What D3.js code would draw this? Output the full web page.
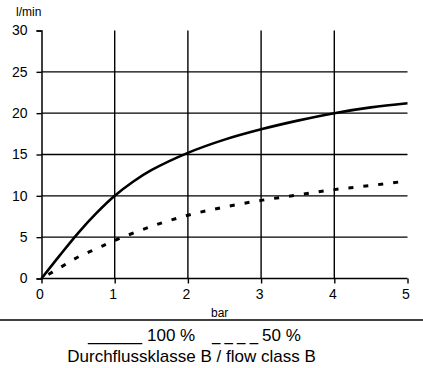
<!DOCTYPE html>
<html>
<head>
<meta charset="utf-8">
<script src="https://cdn.jsdelivr.net/npm/d3@7"></script>
<style>
  html, body { margin: 0; padding: 0; background: #fff; }
  svg { display: block; }
  text { font-family: "Liberation Sans", Arial, sans-serif; fill: #000; }
</style>
</head>
<body>
<div id="chart"></div>
<script>
// ---- data ----
const fullX = [0, 0.25, 0.5, 0.75, 1, 1.25, 1.5, 2, 2.5, 3, 3.5, 4, 4.5, 5];
const fullY = [0, 2.8, 5.5, 7.9, 10, 11.7, 13.1, 15.2, 16.8, 18.05, 19.1, 20.0, 20.7, 21.2];
const halfX = [0, 0.25, 0.5, 0.75, 1, 1.5, 2, 2.5, 3, 3.5, 4, 4.5, 5];
const halfY = [0, 1.3, 2.6, 3.6, 4.6, 6.3, 7.65, 8.65, 9.45, 10.1, 10.75, 11.25, 11.8];
const xTicks = [0, 1, 2, 3, 4, 5];
const yTicks = [0, 5, 10, 15, 20, 25, 30];
const yGrid = [5, 10, 15, 20, 25];
const xGrid = [1, 2, 3, 4];
const yUnit = "l/min";
const xUnit = "bar";
const legendSolid = "______";
const legendSolidLabel = "100 %";
const legendDashed = "_ _ _ _";
const legendDashedLabel = "50 %";
const captionLine = "Durchflussklasse B / flow class B";

const W = 423, H = 368;
const svg = d3.select("#chart").append("svg").attr("width", W).attr("height", H);

const x = d3.scaleLinear().domain([0, 5]).range([41.5, 407.5]);
const y = d3.scaleLinear().domain([0, 30]).range([278.5, 30.5]);
const FONT = '"Liberation Sans", Arial, sans-serif';

// grid
svg.append("g").selectAll("line").data(yGrid).join("line")
  .attr("x1", x(0)).attr("x2", x(5)).attr("y1", d => y(d)).attr("y2", d => y(d))
  .attr("stroke", "#000").attr("stroke-width", 1.4);
svg.append("g").selectAll("line").data(xGrid).join("line")
  .attr("x1", d => x(d)).attr("x2", d => x(d)).attr("y1", y(0)).attr("y2", y(30))
  .attr("stroke", "#000").attr("stroke-width", 1.4);

// axes
const yAxis = d3.axisLeft(y).tickValues(yTicks).tickFormat(d3.format("d")).tickSize(5).tickPadding(9);
const gy = svg.append("g").attr("transform", `translate(${x(0)},0)`).call(yAxis);
gy.select(".domain").attr("stroke-width", 1.5);
gy.selectAll(".tick line").attr("stroke-width", 1.4);
gy.selectAll("text").attr("font-size", 14).style("font-family", FONT);

const xAxis = d3.axisBottom(x).tickValues(xTicks).tickFormat(d3.format("d")).tickSize(5).tickPadding(6);
const gx = svg.append("g").attr("transform", `translate(0,${y(0)})`).call(xAxis);
gx.select(".domain").attr("stroke-width", 1.5).attr("d", `M${x(0)},0H${x(5)}`);
gx.selectAll(".tick line").attr("stroke-width", 1.4);
gx.selectAll("text").attr("font-size", 14).attr("dx", -2).style("font-family", FONT);

// unit labels
svg.append("text").attr("x", 16).attr("y", 16).attr("font-size", 12).text(yUnit);
svg.append("text").attr("x", 211).attr("y", 317).attr("font-size", 12).text(xUnit);

// curves
const line = d3.line().x(d => x(d[0])).y(d => y(d[1])).curve(d3.curveCatmullRom.alpha(0.5));
svg.append("path").datum(d3.zip(fullX, fullY)).attr("d", line)
  .attr("fill", "none").attr("stroke", "#000").attr("stroke-width", 2.6);
svg.append("path").datum(d3.zip(halfX, halfY)).attr("d", line)
  .attr("fill", "none").attr("stroke", "#000").attr("stroke-width", 3)
  .attr("stroke-dasharray", "5,10").attr("stroke-dashoffset", -8);

// bottom rule
svg.append("line").attr("x1", 0).attr("x2", W).attr("y1", 320).attr("y2", 320)
  .attr("stroke", "#000").attr("stroke-width", 1.6);

// legend
svg.append("text").attr("x", 88).attr("y", 341).attr("font-size", 17)
  .attr("textLength", 54).attr("lengthAdjust", "spacingAndGlyphs").text(legendSolid);
svg.append("text").attr("x", 147).attr("y", 341).attr("font-size", 17).text(legendSolidLabel);
svg.append("text").attr("x", 212).attr("y", 341).attr("font-size", 17)
  .attr("textLength", 46).attr("lengthAdjust", "spacingAndGlyphs").text(legendDashed);
svg.append("text").attr("x", 262).attr("y", 341).attr("font-size", 17).text(legendDashedLabel);
svg.append("text").attr("x", 191.5).attr("y", 362).attr("text-anchor", "middle")
  .attr("font-size", 17).text(captionLine);
</script>
</body>
</html>
